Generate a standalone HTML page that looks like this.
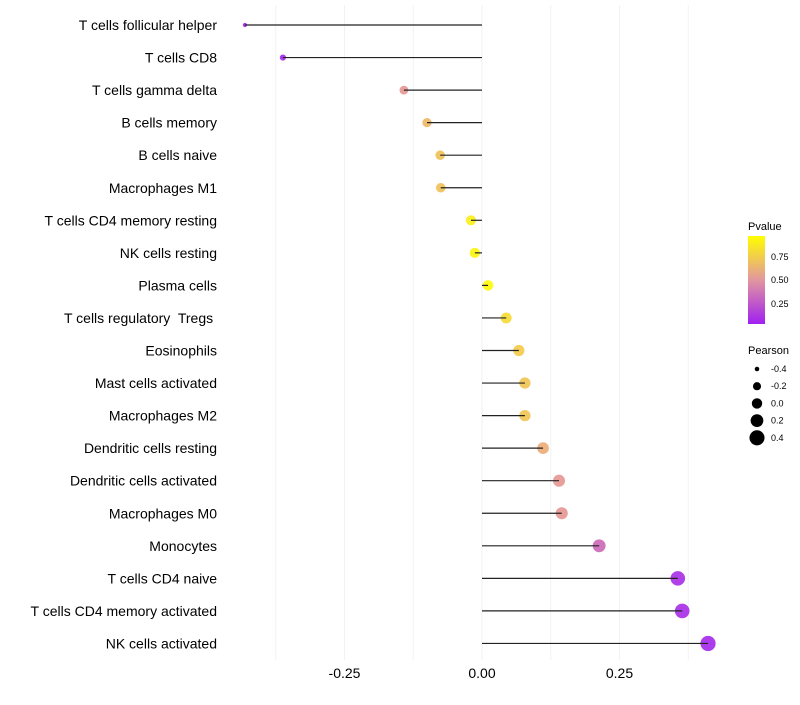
<!DOCTYPE html>
<html><head><meta charset="utf-8"><style>
body{margin:0;background:#fff;font-family:"Liberation Sans",sans-serif}
</style></head><body>
<svg id="c" width="800" height="700" xmlns="http://www.w3.org/2000/svg">
<defs><linearGradient id="g" x1="0" y1="1" x2="0" y2="0">
<stop offset="0" stop-color="#A020F0"/><stop offset="0.5" stop-color="#E296A0"/><stop offset="1" stop-color="#FFFF00"/></linearGradient></defs>
<g id="grid"></g><g id="dots"></g><g id="marks"></g><g id="labels"></g>
<g id="legend">
<text x="748" y="230" font-size="11" fill="#000">Pvalue</text>
<rect x="748" y="236" width="17" height="88" fill="url(#g)"/>
<text x="771" y="260" font-size="9">0.75</text>
<text x="771" y="283" font-size="9">0.50</text>
<text x="771" y="307" font-size="9">0.25</text>
<text x="748" y="354" font-size="11">Pearson</text>
</g>
</svg>
<script>
const cats=["T cells follicular helper","T cells CD8","T cells gamma delta","B cells memory","B cells naive","Macrophages M1","T cells CD4 memory resting","NK cells resting","Plasma cells","T cells regulatory  Tregs ","Eosinophils","Mast cells activated","Macrophages M2","Dendritic cells resting","Dendritic cells activated","Macrophages M0","Monocytes","T cells CD4 naive","T cells CD4 memory activated","NK cells activated"];
const pearson=[-0.431,-0.362,-0.142,-0.100,-0.076,-0.075,-0.020,-0.013,0.011,0.044,0.067,0.078,0.078,0.111,0.140,0.145,0.213,0.356,0.364,0.411];
const pvals=[0.0,0.02,0.5,0.65,0.7,0.7,0.92,0.95,0.97,0.82,0.75,0.72,0.72,0.6,0.5,0.5,0.3,0.05,0.05,0.03];
const xticks=[-0.25,0,0.25];
const xtickLabels=["-0.25","0.00","0.25"];
const sizeLegend=[-0.4,-0.2,0.0,0.2,0.4];
const NS="http://www.w3.org/2000/svg";
const X=v=>482+v*550;
const Y=i=>25+i*32.55;
const R=v=>2+(v+0.45)*5.8+((v>-0.4)?0.6:0);
function col(p){const a=[160,32,240],m=[230,150,145],b=[255,255,0];let c;
 if(p<0.5){const t=p/0.5;c=a.map((x,k)=>Math.round(x+(m[k]-x)*t));}else{const t=(p-0.5)/0.5;c=m.map((x,k)=>Math.round(x+(b[k]-x)*t));}
 return `rgb(${c.join(",")})`;}
function mk(tag,at,parent){const e=document.createElementNS(NS,tag);for(const k in at)e.setAttribute(k,at[k]);document.getElementById(parent).appendChild(e);return e;}
for(let v=-0.375;v<=0.376;v+=0.125){
 const l=mk("line",{x1:X(v),x2:X(v),y1:5,y2:660,stroke:"#f2f2f2","stroke-width":1},"grid");
 
 
}
xticks.forEach((v,i)=>{
 const t=mk("text",{x:X(v),y:678,"text-anchor":"middle","font-size":"14",fill:"#000"},"labels");
 t.textContent=xtickLabels[i];
 
 
});
cats.forEach((c,i)=>{
 const y=Y(i);
 const s=mk("line",{x1:X(0),x2:X(pearson[i]),y1:y,y2:y,stroke:"#222","stroke-width":1.2},"marks");
 
 
 const d=mk("circle",{cx:X(pearson[i]),cy:y,r:R(pearson[i]),fill:col(pvals[i]),"fill-opacity":0.9},"dots");
 
 
 const t=mk("text",{x:217,y:y+5,"text-anchor":"end","font-size":"14",fill:"#000"},"labels");
 t.setAttribute("xml:space","preserve");
 t.style.whiteSpace="pre";
 t.textContent=c;
 
 
});
sizeLegend.forEach((v,i)=>{
 const y=369+i*17.2;
 const d=mk("circle",{cx:757,cy:y,r:R(v),fill:"#000"},"legend");
 
 
 const t=mk("text",{x:771,y:y+3,"font-size":"9"},"legend");
 t.textContent=v.toFixed(1);
 
 
});
</script>
</body></html>
